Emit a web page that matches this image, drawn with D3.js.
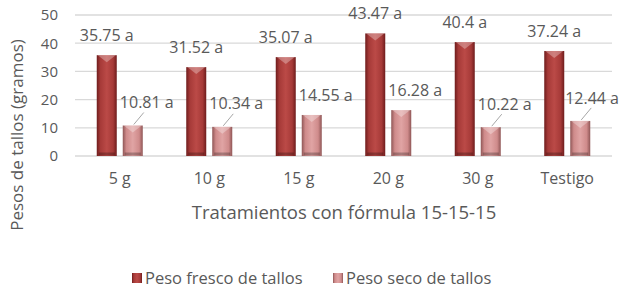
<!DOCTYPE html>
<html>
<head>
<meta charset="utf-8">
<title>Pesos de tallos</title>
<script src="https://cdn.jsdelivr.net/npm/d3@7"></script>
<style>
body { margin: 0; background: #fff; }
text { font-family: "Open Sans", "Noto Sans", sans-serif; fill: #595959; }
</style>
</head>
<body>
<script>

// datos del grafico
var categorias = ["5 g", "10 g", "15 g", "20 g", "30 g", "Testigo"];
var pesoFresco = [35.75, 31.52, 35.07, 43.47, 40.4, 37.24];
var pesoSeco = [10.81, 10.34, 14.55, 16.28, 10.22, 12.44];
var letras = ["a", "a", "a", "a", "a", "a"];
var series = ["Peso fresco de tallos", "Peso seco de tallos"];
var yTicks = [0, 10, 20, 30, 40, 50];

var width = 620, height = 289;
var margin = {left: 75, right: 8, top: 15, bottom: 133};

var svg = d3.select("body").append("svg")
  .attr("width", width)
  .attr("height", height);

var defs = svg.append("defs");

// degradados para simular las barras biseladas
function gradiente(id, borde, medio, claro) {
  var g = defs.append("linearGradient").attr("id", id)
    .attr("x1", 0).attr("x2", 1).attr("y1", 0).attr("y2", 0);
  g.append("stop").attr("offset", "0%").attr("stop-color", borde);
  g.append("stop").attr("offset", "18%").attr("stop-color", medio);
  g.append("stop").attr("offset", "50%").attr("stop-color", claro);
  g.append("stop").attr("offset", "82%").attr("stop-color", medio);
  g.append("stop").attr("offset", "100%").attr("stop-color", borde);
}
gradiente("gFresco", "#6e1c1c", "#a63a38", "#bb4a47");
gradiente("gSeco", "#8f5656", "#cf8b8b", "#e0a4a4");

var x0 = d3.scaleBand()
  .domain(categorias)
  .range([margin.left, width - margin.right]);

var y = d3.scaleLinear()
  .domain([0, 50])
  .range([height - margin.bottom, margin.top]);

var barW = 20, gap = 6;

// lineas de cuadricula
svg.append("g").selectAll("line")
  .data(yTicks)
  .enter().append("line")
  .attr("x1", margin.left)
  .attr("x2", width - margin.right)
  .attr("y1", function(d) { return y(d); })
  .attr("y2", function(d) { return y(d); })
  .attr("stroke", "#d9d9d9")
  .attr("stroke-width", 1.3);

// eje y
var yAxis = svg.append("g")
  .attr("transform", "translate(" + (margin.left - 17) + ",0)")
  .call(d3.axisLeft(y).tickValues(yTicks).tickSize(0).tickPadding(0));
yAxis.select(".domain").remove();
yAxis.selectAll("text")
  .style("font-size", "15px")
  .attr("fill", "#595959");

// eje x
var xAxis = svg.append("g")
  .attr("transform", "translate(0," + (y(0) + 17) + ")")
  .call(d3.axisBottom(x0).tickSize(0).tickPadding(0));
xAxis.select(".domain").remove();
xAxis.selectAll("text")
  .style("font-size", "16px")
  .attr("fill", "#595959");

function dibujarBarras(valores, desplaz, fill, clase) {
  var g = svg.append("g").attr("class", clase);
  var bx = function(d, i) { return x0(categorias[i]) + x0.bandwidth() / 2 + desplaz; };
  g.selectAll("rect")
    .data(valores)
    .enter().append("rect")
    .attr("x", bx)
    .attr("y", function(d) { return y(d); })
    .attr("width", barW)
    .attr("height", function(d) { return y(0) - y(d); })
    .attr("fill", fill);
  // bisel superior
  g.selectAll("path")
    .data(valores)
    .enter().append("path")
    .attr("d", function(d, i) {
      var l = bx(d, i), t = y(d);
      return "M" + (l + 1) + "," + t + "L" + (l + barW - 1) + "," + t +
             "L" + (l + barW / 2) + "," + (t + 7) + "Z";
    })
    .attr("fill", "#fff")
    .attr("opacity", 0.3);
  // sombra inferior
  g.selectAll("line")
    .data(valores)
    .enter().append("line")
    .attr("x1", function(d, i) { return bx(d, i) + 2; })
    .attr("x2", function(d, i) { return bx(d, i) + barW - 2; })
    .attr("y1", y(0) - 2)
    .attr("y2", y(0) - 2)
    .attr("stroke", "#000")
    .attr("stroke-opacity", 0.25)
    .attr("stroke-width", 3);
}

dibujarBarras(pesoFresco, -barW - gap / 2 + 0, "url(#gFresco)", "fresco");
dibujarBarras(pesoSeco, gap / 2, "url(#gSeco)", "seco");

// etiquetas peso fresco
svg.append("g").selectAll("text")
  .data(pesoFresco)
  .enter().append("text")
  .attr("x", function(d, i) { return x0(categorias[i]) + x0.bandwidth() / 2 - gap / 2 - barW / 2; })
  .attr("y", function(d) { return y(d) - 20; })
  .attr("dy", "0.35em")
  .attr("text-anchor", "middle")
  .style("font-size", "16px")
  .text(function(d, i) { return d + " " + letras[i]; });

// etiquetas peso seco (desplazadas, con lineas guia en las barras bajas)
var gs = svg.append("g");
pesoSeco.forEach(function(d, i) {
  var cx = x0(categorias[i]) + x0.bandwidth() / 2 + gap / 2 + barW / 2;
  var guia = d < 13;
  var ly = y(d) - (guia ? 23 : 20);
  var t = gs.append("text")
    .attr("y", ly)
    .attr("dy", "0.35em")
    .attr("text-anchor", "middle")
    .style("font-size", "16px")
    .text(d + " " + letras[i]);
  var half = t.node().getComputedTextLength() / 2;
  var lx = Math.min(cx + (guia ? 14 : 14), width - 1 - half);
  t.attr("x", lx);
  if (guia) {
    gs.insert("line", "text")
      .attr("x1", cx + 1).attr("y1", y(d) - 1)
      .attr("x2", cx + 11).attr("y2", ly + 10)
      .attr("stroke", "#a6a6a6")
      .attr("stroke-width", 1);
  }
});

// titulos de ejes
svg.append("text")
  .attr("transform", "translate(17," + 135 + ") rotate(-90)")
  .attr("text-anchor", "middle")
  .attr("dy", "0.35em")
  .style("font-size", "17px")
  .text("Pesos de tallos (gramos)");

svg.append("text")
  .attr("x", 344)
  .attr("y", 213)
  .attr("dy", "0.35em")
  .attr("text-anchor", "middle")
  .style("font-size", "18.5px")
  .text("Tratamientos con fórmula 15-15-15");

// leyenda
var legX = [132, 333];
var legFill = ["url(#gFresco)", "url(#gSeco)"];
var leg = svg.append("g").selectAll("g")
  .data(series)
  .enter().append("g")
  .attr("transform", function(d, i) { return "translate(" + legX[i] + ",278)"; });
leg.append("rect")
  .attr("x", 0).attr("y", -5)
  .attr("width", 10).attr("height", 10)
  .attr("fill", function(d, i) { return legFill[i]; });
leg.append("text")
  .attr("x", 13)
  .attr("dy", "0.35em")
  .style("font-size", "16.5px")
  .text(function(d) { return d; });

</script>
</body>
</html>
